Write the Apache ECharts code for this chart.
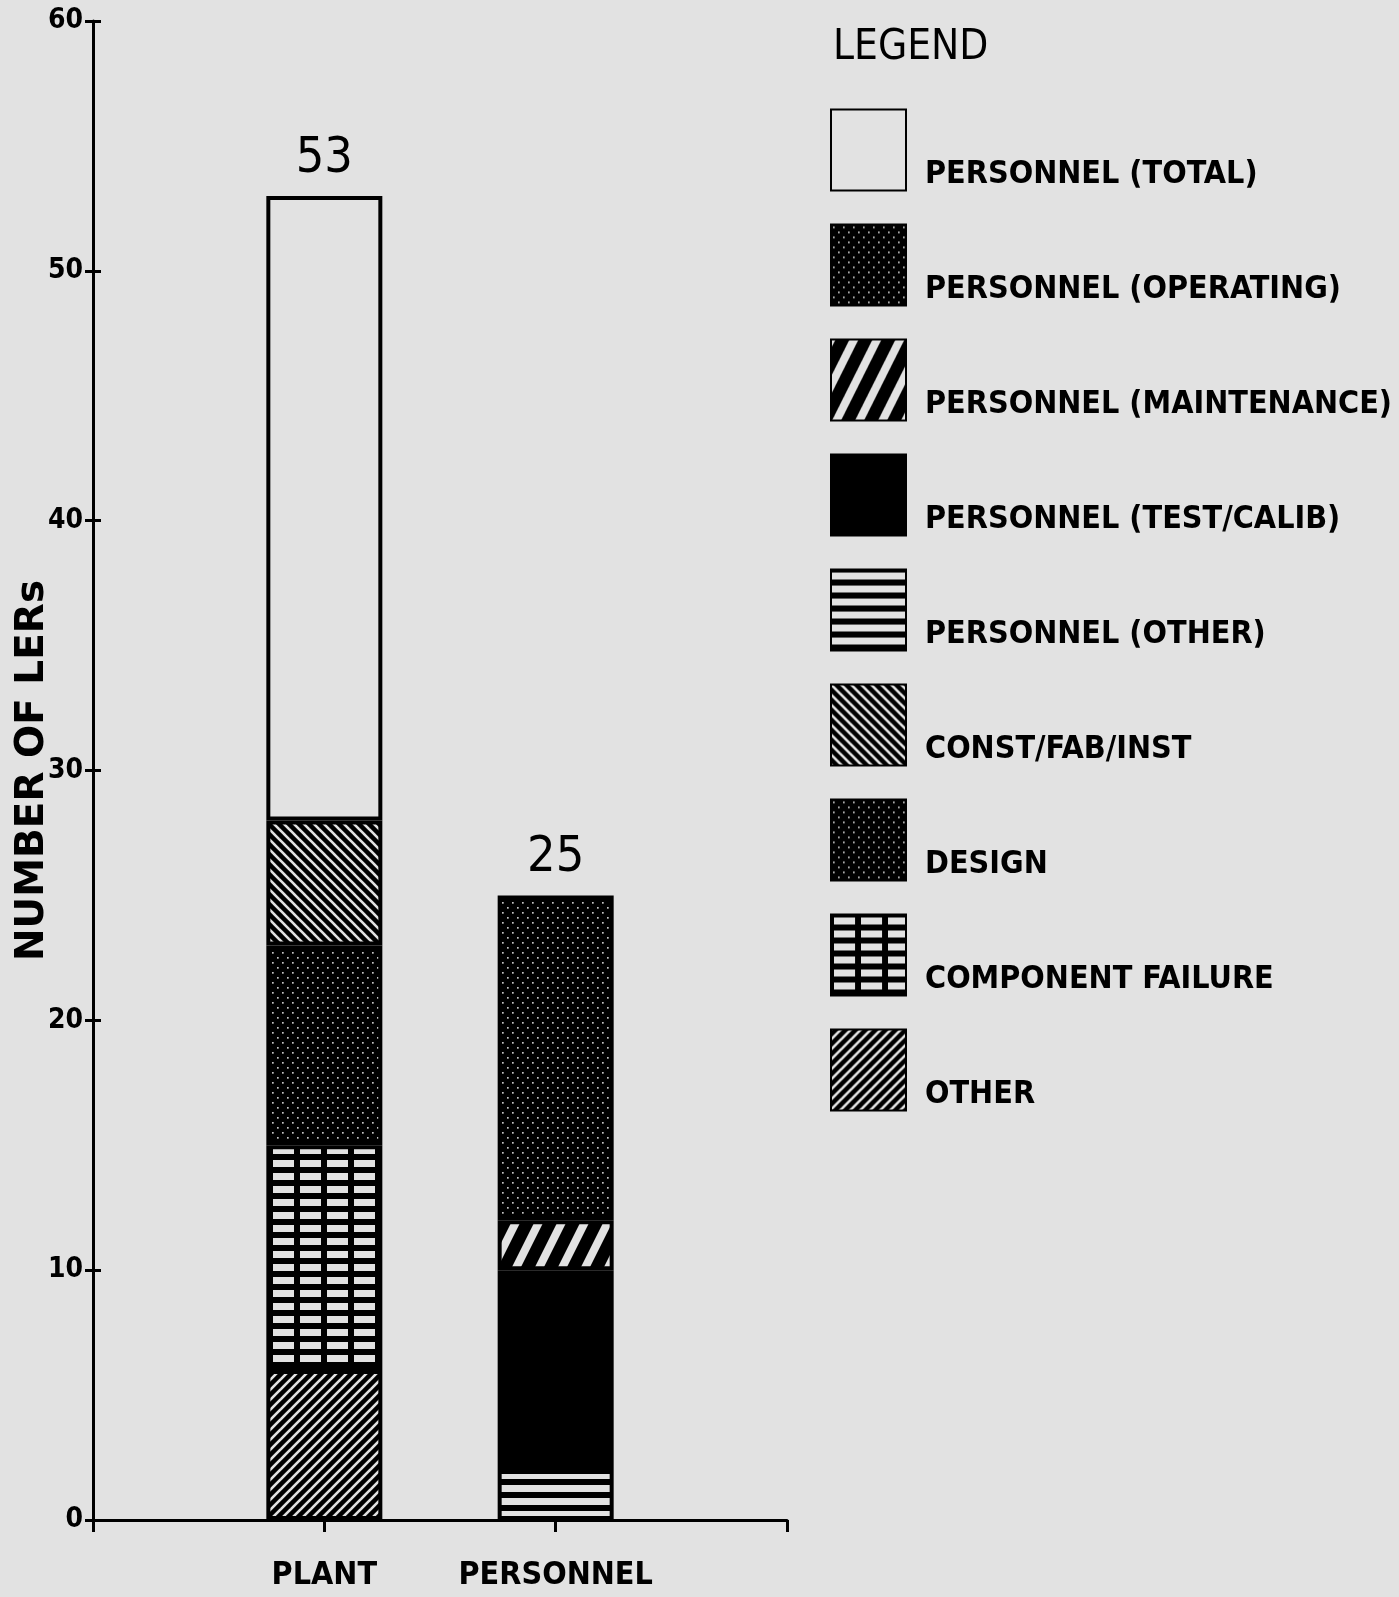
<!DOCTYPE html>
<html>
<head>
<meta charset="utf-8">
<script src="https://cdn.jsdelivr.net/npm/echarts@6/dist/echarts.min.js"></script>
<style>
  html, body { margin: 0; padding: 0; background: #e2e2e2; }
  #chart { width: 1399px; height: 1597px; }
</style>
</head>
<body>
<div id="chart"></div>
<script>
var categories = ['', 'PLANT', 'PERSONNEL', ''];
var yTicks = [0, 10, 20, 30, 40, 50, 60];

// plant bar, bottom to top
var otherVals     = ['-', 6, '-', '-'];
var componentVals = ['-', 9, '-', '-'];
var designVals    = ['-', 8, '-', '-'];
var constVals     = ['-', 5, '-', '-'];
var totalVals     = ['-', 25, '-', '-'];
// personnel bar, bottom to top
var persOtherVals = ['-', '-', 2, '-'];
var testVals      = ['-', '-', 8, '-'];
var maintVals     = ['-', '-', 2, '-'];
var operVals      = ['-', '-', 13, '-'];

var BG = '#e2e2e2';
var NARROW = "'DejaVu Sans Condensed', 'Liberation Sans', sans-serif";

function tile(w, h, draw) {
  var c = document.createElement('canvas');
  c.width = w;
  c.height = h;
  var g = c.getContext('2d');
  g.fillStyle = '#000';
  g.fillRect(0, 0, w, h);
  g.fillStyle = BG;
  g.strokeStyle = BG;
  draw(g, w, h);
  return { image: c, repeat: 'repeat' };
}

// diagonal stripes, one per tile, extended past the edges so the tiles join
function stripes(g, w, h, dir, lw) {
  g.lineWidth = lw;
  for (var k = -2; k <= 2; k++) {
    g.beginPath();
    if (dir > 0) {
      g.moveTo(k * w - w, 2 * h);
      g.lineTo(k * w + 2 * w, -h);
    } else {
      g.moveTo(k * w - w, -h);
      g.lineTo(k * w + 2 * w, 2 * h);
    }
    g.stroke();
  }
}

function dots(g) {
  g.fillStyle = '#c4c4c4';
  g.fillRect(2, 2, 1.7, 1.7);
  g.fillRect(7, 7, 1.7, 1.7);
}

var fills = {
  total: BG,
  oper: tile(10, 10, dots),
  maint: tile(23, 46, function (g, w, h) { stripes(g, w, h, 1, 8); }),
  test: '#000',
  persOther: tile(8, 13, function (g) { g.fillRect(0, 3, 8, 7); }),
  constr: tile(10, 10, function (g, w, h) { stripes(g, w, h, -1, 2.6); }),
  design: tile(10, 10, dots),
  component: tile(27, 13, function (g) { g.fillRect(3, 3, 21, 7); }),
  other: tile(10, 10, function (g, w, h) { stripes(g, w, h, 1, 2.6); })
};

var allVals = [otherVals, componentVals, designVals, constVals, totalVals,
  persOtherVals, testVals, maintVals, operVals];

function stackTotal(i) {
  var s = 0;
  allVals.forEach(function (a) { if (typeof a[i] === 'number') s += a[i]; });
  return s;
}

var topLabel = {
  show: true,
  position: 'top',
  distance: 12,
  color: '#000',
  fontFamily: NARROW,
  fontSize: 50,
  formatter: function (p) { return stackTotal(p.dataIndex); }
};

function bar(name, data, fill, label) {
  return {
    name: name,
    type: 'bar',
    stack: 'lers',
    barWidth: 116,
    data: data,
    itemStyle: { color: fill, borderColor: '#000', borderWidth: 4 },
    label: label || { show: false },
    emphasis: { disabled: true }
  };
}

var chart = echarts.init(document.getElementById('chart'));
chart.setOption({
  backgroundColor: BG,
  animation: false,
  title: {
    text: 'LEGEND',
    left: 828,
    top: 22,
    textStyle: { color: '#000', fontFamily: NARROW, fontWeight: 'normal', fontSize: 42 }
  },
  legend: {
    orient: 'vertical',
    left: 825,
    top: 95,
    itemWidth: 75,
    itemHeight: 81,
    itemGap: 15,
    icon: 'rect',
    selectedMode: false,
    data: ['PERSONNEL (TOTAL)', 'PERSONNEL (OPERATING)', 'PERSONNEL (MAINTENANCE)',
      'PERSONNEL (TEST/CALIB)', 'PERSONNEL (OTHER)', 'CONST/FAB/INST', 'DESIGN',
      'COMPONENT FAILURE', 'OTHER'],
    // names sit low beside the boxes, so push them down one line
    formatter: function (name) { return '\n' + name; },
    textStyle: {
      color: '#000',
      fontFamily: NARROW,
      fontWeight: 'bold',
      fontSize: 32,
      lineHeight: 50,
      padding: [0, 0, 0, 14]
    }
  },
  grid: { left: 93, right: 612, top: 21, bottom: 77 },
  xAxis: {
    type: 'category',
    data: categories,
    boundaryGap: false,
    axisLine: { lineStyle: { color: '#000', width: 3 } },
    axisTick: { length: 12, lineStyle: { color: '#000', width: 3 } },
    axisLabel: {
      interval: 0,
      color: '#000',
      fontFamily: NARROW,
      fontWeight: 'bold',
      fontSize: 32,
      margin: 40
    }
  },
  yAxis: [{
    type: 'value',
    position: 'left',
    min: yTicks[0],
    max: yTicks[yTicks.length - 1],
    interval: yTicks[1] - yTicks[0],
    axisLine: { show: true, lineStyle: { color: '#000', width: 3 } },
    axisTick: { show: true, length: 8, lineStyle: { color: '#000', width: 3 } },
    axisLabel: { color: '#000', fontFamily: NARROW, fontWeight: 'bold', fontSize: 28, margin: 10 },
    splitLine: { show: false },
    name: 'NUMBER OF LERs',
    nameLocation: 'middle',
    nameGap: 41,
    nameMoveOverlap: false,
    nameTextStyle: { color: '#000', fontFamily: "'DejaVu Sans', sans-serif", fontWeight: 'bold', fontSize: 39 }
  }, {
    type: 'value',
    position: 'left',
    min: yTicks[0],
    max: yTicks[yTicks.length - 1],
    interval: yTicks[1] - yTicks[0],
    axisLine: { show: false },
    axisTick: { show: true, inside: true, length: 8, lineStyle: { color: '#000', width: 3 } },
    axisLabel: { show: false },
    splitLine: { show: false }
  }],
  series: [
    bar('OTHER', otherVals, fills.other),
    bar('COMPONENT FAILURE', componentVals, fills.component),
    bar('DESIGN', designVals, fills.design),
    bar('CONST/FAB/INST', constVals, fills.constr),
    bar('PERSONNEL (TOTAL)', totalVals, fills.total, topLabel),
    bar('PERSONNEL (OTHER)', persOtherVals, fills.persOther),
    bar('PERSONNEL (TEST/CALIB)', testVals, fills.test),
    bar('PERSONNEL (MAINTENANCE)', maintVals, fills.maint),
    bar('PERSONNEL (OPERATING)', operVals, fills.oper, topLabel)
  ]
});
</script>
</body>
</html>
